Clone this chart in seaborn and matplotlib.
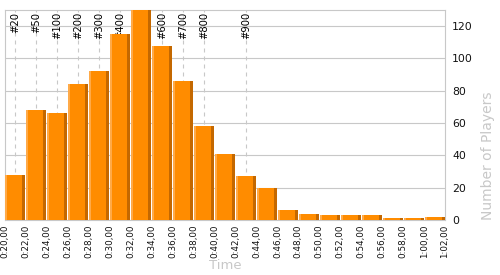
import matplotlib
matplotlib.use("Agg")
import matplotlib.pyplot as plt
from matplotlib.patches import Rectangle
import seaborn as sns
import numpy as np
import pandas as pd

# ---- data ----
bin_start_min = [20, 22, 24, 26, 28, 30, 32, 34, 36, 38, 40, 42, 44, 46, 48, 50, 52, 54, 56, 58, 60]
players = [28, 68, 66, 84, 92, 115, 130, 108, 86, 58, 41, 27, 20, 6, 4, 3, 3, 3, 1, 1, 2]
tick_minutes = [20, 22, 24, 26, 28, 30, 32, 34, 36, 38, 40, 42, 44, 46, 48, 50, 52, 54, 56, 58, 60, 62]
tick_labels = ["0:20,00", "0:22,00", "0:24,00", "0:26,00", "0:28,00", "0:30,00", "0:32,00",
               "0:34,00", "0:36,00", "0:38,00", "0:40,00", "0:42,00", "0:44,00", "0:46,00",
               "0:48,00", "0:50,00", "0:52,00", "0:54,00", "0:56,00", "0:58,00", "1:00,00", "1:02,00"]
rank_labels = ["#20", "#50", "#100", "#200", "#300", "#400", "#600", "#700", "#800", "#900"]
rank_bin_start = [20, 22, 24, 26, 28, 30, 34, 36, 38, 42]
y_ticks = [0, 20, 40, 60, 80, 100, 120]

BIN = 2.0
MAIN = "#ff8c00"
LIGHT = "#ffaa48"
DARK = "#c46800"
GRID = "#c8c8c8"

sns.set_style("white")
plt.rcParams["font.family"] = ["DejaVu Sans"]

fig = plt.figure(figsize=(5, 2.75), dpi=100)
ax = fig.add_axes([0.01, 0.2, 0.88, 0.7636])

df = pd.DataFrame({"center": np.array(bin_start_min) + BIN / 2, "players": players})
sns.barplot(data=df, x="center", y="players", native_scale=True, width=0.955,
            color=MAIN, saturation=1, errorbar=None, linewidth=0, ax=ax, zorder=3)

# bevel strips on each bar
for p in list(ax.patches):
    x0, w, h = p.get_x(), p.get_width(), p.get_height()
    ax.add_patch(Rectangle((x0, 0), w * 0.1, h, facecolor=LIGHT, linewidth=0, zorder=3.5))
    ax.add_patch(Rectangle((x0 + w * 0.85, 0), w * 0.15, h, facecolor=DARK, linewidth=0, zorder=3.5))

# rank markers
trans = matplotlib.transforms.blended_transform_factory(ax.transData, ax.transAxes)
for lab, b in zip(rank_labels, rank_bin_start):
    xc = b + BIN / 2
    ax.axvline(xc, color=GRID, lw=0.8, linestyle=(0, (3.6, 3.6)), zorder=1)
    ax.text(xc, 0.99, lab, transform=trans, rotation=90, ha="center", va="top",
            fontsize=7.2, color="black", zorder=2)

ax.set_xlim(tick_minutes[0], tick_minutes[-1])
ax.set_ylim(0, 130)
ax.set_xticks(tick_minutes)
ax.set_xticklabels(tick_labels, rotation=90, fontsize=6.3, color="#111111")
ax.set_yticks(y_ticks)
ax.set_yticklabels([str(v) for v in y_ticks], fontsize=7.8, color="#111111")
ax.yaxis.tick_right()
ax.yaxis.set_label_position("right")
ax.tick_params(axis="both", length=0)
ax.tick_params(axis="x", pad=3)
ax.tick_params(axis="y", pad=5)

ax.yaxis.grid(True, color=GRID, lw=0.8, zorder=0)
ax.xaxis.grid(False)
ax.set_axisbelow(True)
for s in ax.spines.values():
    s.set_visible(True)
    s.set_color(GRID)
    s.set_linewidth(0.8)

ax.set_xlabel("Time", fontsize=9.5, color="#c8c8c8", labelpad=1)
ax.set_ylabel("Number of Players", fontsize=10, color="#c8c8c8", loc="bottom", labelpad=6)

fig.savefig("out.png", dpi=100)
